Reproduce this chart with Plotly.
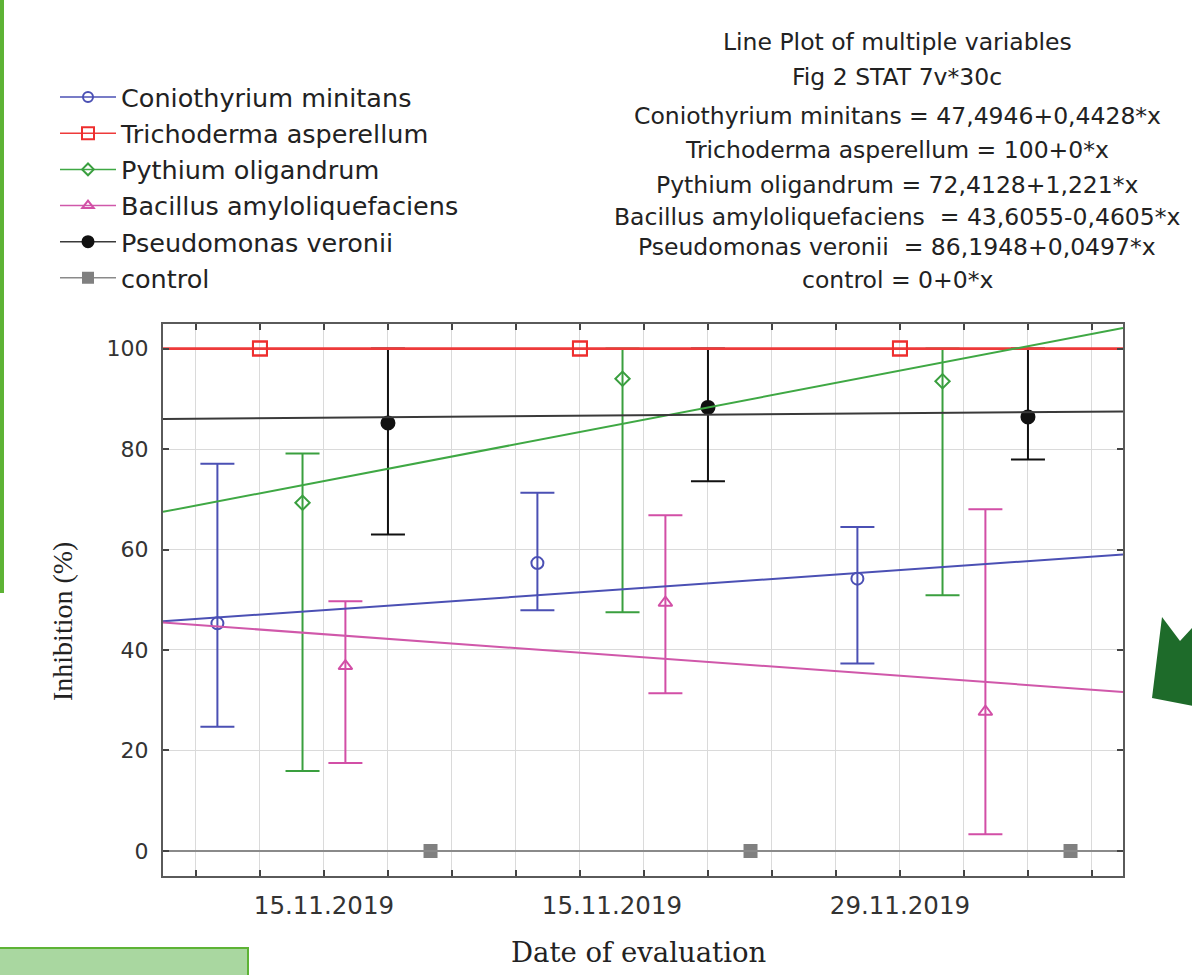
import plotly.graph_objects as go

# ---------------- data ----------------
series_names = ["Coniothyrium minitans", "Trichoderma asperellum", "Pythium oligandrum",
                "Bacillus amyloliquefaciens", "Pseudomonas veronii", "control"]

# case positions (x, in case units) for each series
conio_x = [-2.33, 7.67, 17.67]
tricho_x = [-1, 9, 19]
pyth_x = [0.33, 10.33, 20.33]
bac_x = [1.67, 11.67, 21.67]
pseudo_x = [3, 13, 23]
control_x = [4.33, 14.33, 24.33]

conio_y = [45.3, 57.3, 54.2]
conio_hi = [77.1, 71.3, 64.5]
conio_lo = [24.7, 47.9, 37.3]

tricho_y = [100, 100, 100]

pyth_y = [69.3, 94.0, 93.5]
pyth_hi = [79.1, 100, 100]
pyth_lo = [15.9, 47.5, 50.9]

bac_y = [36.8, 49.4, 27.7]
bac_hi = [49.7, 66.8, 68.0]
bac_lo = [17.5, 31.4, 3.3]

pseudo_y = [85.2, 88.3, 86.4]
pseudo_hi = [100, 100, 100]
pseudo_lo = [63.0, 73.6, 77.9]

control_y = [0, 0, 0]

# fitted lines shown in the chart header: y = a + b*x
fit_intercepts = [47.4946, 100, 72.4128, 43.6055, 86.1948, 0]
fit_slopes = [0.4428, 0, 1.221, -0.4605, 0.0497, 0]

x_tick_vals = [1, 10, 19]
x_tick_text = ["15.11.2019", "15.11.2019", "29.11.2019"]
x_grid_vals = list(range(-3, 26, 2))
y_tick_vals = [0, 20, 40, 60, 80, 100]

header_lines = [
    "Line Plot of multiple variables",
    "Fig 2 STAT 7v*30c",
    "Coniothyrium minitans = 47,4946+0,4428*x",
    "Trichoderma asperellum = 100+0*x",
    "Pythium oligandrum = 72,4128+1,221*x",
    "Bacillus amyloliquefaciens  = 43,6055-0,4605*x",
    "Pseudomonas veronii  = 86,1948+0,0497*x",
    "control = 0+0*x",
]

# ---------------- styling ----------------
X_RANGE = [-4.03, 25.97]
Y_RANGE = [-5.0, 104.9]
W, H = 1192, 975
ML, MR, MT, MB = 163, 69, 324, 99
PW, PH = W - ML - MR, H - MT - MB

colors = ["#4b50b4", "#ee2e2e", "#3a9f3f", "#d24fa6", "#111111", "#808080"]
line_colors = ["#4b50b4", "#ee3a3a", "#3fa844", "#d058aa", "#3a3a3a", "#8a8a8a"]
line_widths = [2, 2.6, 2, 2, 2, 2]
symbols = ["circle-open", "square-open", "diamond-open", "triangle-up-open", "circle", "square"]
msizes = [12, 14, 11, 12, 13, 12]

SANS = "DejaVu Sans"


def pxx(x):
    return (x - ML) / PW


def pxy(y):
    return (H - MB - y) / PH


pts_x = [conio_x, tricho_x, pyth_x, bac_x, pseudo_x, control_x]
pts_y = [conio_y, tricho_y, pyth_y, bac_y, pseudo_y, control_y]
pts_hi = [conio_hi, None, pyth_hi, bac_hi, pseudo_hi, None]
pts_lo = [conio_lo, None, pyth_lo, bac_lo, pseudo_lo, None]

fig = go.Figure()

# points with error bars
for i, name in enumerate(series_names):
    err = None
    if pts_hi[i] is not None:
        err = dict(type="data", symmetric=False,
                   array=[h - v for h, v in zip(pts_hi[i], pts_y[i])],
                   arrayminus=[v - l for v, l in zip(pts_y[i], pts_lo[i])],
                   color=colors[i], thickness=2, width=17)
    fig.add_trace(go.Scatter(
        x=pts_x[i], y=pts_y[i], mode="markers", name=name, showlegend=False,
        marker=dict(symbol=symbols[i], size=msizes[i], color=colors[i],
                    line=dict(color=colors[i], width=2)),
        error_y=err, cliponaxis=False))

# fitted regression lines
for i, name in enumerate(series_names):
    xs = list(X_RANGE)
    ys = [fit_intercepts[i] + fit_slopes[i] * x for x in xs]
    fig.add_trace(go.Scatter(
        x=xs, y=ys, mode="lines", showlegend=False, hoverinfo="skip",
        line=dict(color=line_colors[i], width=line_widths[i])))

# Trichoderma markers drawn again on top of its line
fig.add_trace(go.Scatter(
    x=tricho_x, y=tricho_y, mode="markers", showlegend=False, hoverinfo="skip",
    marker=dict(symbol=symbols[1], size=msizes[1], color=colors[1],
                line=dict(color=colors[1], width=2))))

# legend entries (line + marker)
for i, name in enumerate(series_names):
    fig.add_trace(go.Scatter(
        x=[None], y=[None], mode="lines+markers", name=name, xaxis="x2",
        marker=dict(symbol=symbols[i], size=msizes[i] - 2, color=colors[i],
                    line=dict(color=colors[i], width=2)),
        line=dict(color=line_colors[i], width=1.5)))

annotations = []
header_y = [42, 77, 116, 150, 185, 217, 247, 280]
for txt, yy in zip(header_lines, header_y):
    annotations.append(dict(text=txt, xref="paper", yref="paper", x=pxx(897), y=pxy(yy),
                            xanchor="center", yanchor="middle", showarrow=False,
                            font=dict(family=SANS, size=23.5, color="#222222")))

annotations.append(dict(text="Date of evaluation", xref="paper", yref="paper",
                        x=pxx(638), y=pxy(952), xanchor="center", yanchor="middle",
                        showarrow=False,
                        font=dict(family="DejaVu Serif", size=27.5, color="#222222")))
annotations.append(dict(text="Inhibition (%)", xref="paper", yref="paper",
                        x=pxx(62), y=pxy(622), xanchor="center", yanchor="middle",
                        showarrow=False, textangle=-90,
                        font=dict(family="Liberation Serif", size=28, color="#222222")))

shapes = [
    # decorative elements visible around the figure
    dict(type="rect", xref="paper", yref="paper", x0=pxx(0), x1=pxx(4), y0=pxy(593), y1=pxy(0),
         fillcolor="#5db335", line=dict(width=0), layer="above"),
    dict(type="rect", xref="paper", yref="paper", x0=pxx(-2), x1=pxx(248), y0=pxy(978), y1=pxy(948),
         fillcolor="#a9d7a0", line=dict(color="#5db335", width=2), layer="above"),
    dict(type="path", xref="paper", yref="paper",
         path="M {} {} L {} {} L {} {} L {} {} L {} {} Z".format(
             pxx(1162), pxy(617), pxx(1180), pxy(641), pxx(1193), pxy(627),
             pxx(1193), pxy(706), pxx(1152), pxy(698)),
         fillcolor="#1e6b2a", line=dict(width=0), layer="above"),
]

fig.update_layout(
    width=W, height=H,
    margin=dict(l=ML, r=MR, t=MT, b=MB),
    paper_bgcolor="white", plot_bgcolor="white",
    font=dict(family=SANS, color="#333333"),
    xaxis=dict(range=X_RANGE, tickvals=x_grid_vals, showticklabels=False,
               showgrid=True, gridcolor="#dadada", gridwidth=1,
               ticks="inside", ticklen=6, tickwidth=1.5, tickcolor="#444444",
               showline=True, linecolor="#5a5a5a", linewidth=2, mirror="ticks",
               zeroline=False),
    xaxis2=dict(range=X_RANGE, overlaying="x", anchor="y", side="bottom",
                tickvals=x_tick_vals, ticktext=x_tick_text, showgrid=False,
                ticks="", showline=False, zeroline=False, ticklabelstandoff=12,
                tickfont=dict(family=SANS, size=24.5, color="#333333")),
    yaxis=dict(range=Y_RANGE, tickvals=y_tick_vals, showgrid=True, gridcolor="#dadada",
               gridwidth=1, ticks="inside", ticklen=6, tickwidth=1.5, tickcolor="#444444",
               showline=True, linecolor="#5a5a5a", linewidth=2, mirror="ticks",
               zeroline=False, ticklabelstandoff=8,
               tickfont=dict(family=SANS, size=22, color="#333333")),
    legend=dict(x=pxx(55), y=pxy(74), xanchor="left", yanchor="top",
                bgcolor="rgba(0,0,0,0)", font=dict(family=SANS, size=25.5, color="#222222"),
                itemwidth=56, tracegroupgap=0),
    annotations=annotations,
    shapes=shapes,
    showlegend=True,
)

fig.write_html("out.html",
               config={"displayModeBar": False},
               post_script="document.body.style.margin='0px';"
                           "document.body.style.overflow='hidden';")
